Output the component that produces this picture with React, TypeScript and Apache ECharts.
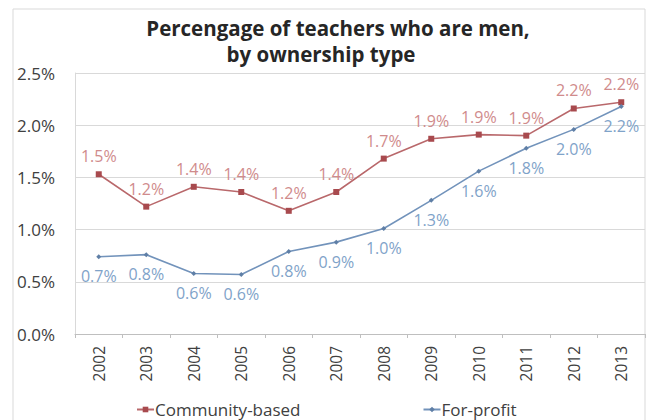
import React, { useEffect, useRef } from "react";
import * as echarts from "echarts";

const years = ["2002","2003","2004","2005","2006","2007","2008","2009","2010","2011","2012","2013"];
const communityBased = [1.53, 1.22, 1.41, 1.36, 1.18, 1.36, 1.68, 1.87, 1.91, 1.90, 2.16, 2.22];
const forProfit = [0.74, 0.76, 0.58, 0.57, 0.79, 0.88, 1.01, 1.28, 1.56, 1.78, 1.96, 2.18];
const titleLines = ["Percengage of teachers who are men,", "by ownership type"];
const seriesNames = ["Community-based", "For-profit"];

export default function App() {
  const ref = useRef<HTMLDivElement>(null);
  useEffect(() => {
    const chart = echarts.init(ref.current!, null, { renderer: "svg" });
    const font = "Open Sans";
    const titleStyle = { fontFamily: font, fontSize: 20.5, fontWeight: "bold", color: "#262626" };
    chart.setOption({
      animation: false,
      backgroundColor: "#ffffff",
      title: [
        { text: titleLines[0], left: 333, textAlign: "center", top: 12, textStyle: titleStyle },
        { text: titleLines[1], left: 316, textAlign: "center", top: 38, textStyle: titleStyle },
      ],
      graphic: [
        { type: "rect", shape: { x: 13, y: 9, width: 632, height: 430 }, style: { fill: "none", stroke: "#d9d9d9", lineWidth: 1 }, silent: true, z: -1 },
      ],
      legend: {
        top: 396,
        left: 131,
        itemGap: 122,
        itemWidth: 17,
        itemHeight: 7,
        textStyle: { fontFamily: font, fontSize: 17, color: "#404040", padding: [0, 0, 0, -4] },
        data: seriesNames,
      },
      grid: { left: 75, right: 2, top: 73, bottom: 420 - 334, containLabel: false },
      xAxis: {
        type: "category",
        data: years,
        boundaryGap: true,
        axisLine: { show: true, lineStyle: { color: "#bfbfbf" } },
        axisTick: { show: true, length: 4, lineStyle: { color: "#bfbfbf" } },
        axisLabel: { rotate: 90, fontFamily: font, fontSize: 15.5, color: "#404040", margin: 12 },
      },
      yAxis: {
        type: "value",
        min: 0,
        max: 0.025,
        interval: 0.005,
        axisLine: { show: true, lineStyle: { color: "#d9d9d9" } },
        axisTick: { show: false },
        splitLine: { lineStyle: { color: "#d9d9d9" } },
        axisLabel: {
          fontFamily: font,
          fontSize: 17,
          color: "#404040",
          margin: 20,
          formatter: (v: number) => (v * 100).toFixed(1) + "%",
        },
      },
      series: [
        {
          name: seriesNames[0],
          type: "line",
          data: communityBased.map((v) => v / 100),
          symbol: "rect",
          symbolSize: 6,
          itemStyle: { color: "#a84a4e" },
          lineStyle: { color: "#b9686b", width: 1.6 },
          label: {
            show: true,
            position: "top",
            distance: 7,
            fontFamily: font,
            fontSize: 16,
            color: "#d08b8c",
            formatter: (p: any) => (p.value * 100).toFixed(1) + "%",
          },
        },
        {
          name: seriesNames[1],
          type: "line",
          data: forProfit.map((v) => v / 100),
          symbol: "diamond",
          symbolSize: 5,
          itemStyle: { color: "#5f7fa6" },
          lineStyle: { color: "#7293bb", width: 1.6 },
          label: {
            show: true,
            position: "bottom",
            distance: 9,
            fontFamily: font,
            fontSize: 16,
            color: "#7fa3c9",
            formatter: (p: any) => (p.value * 100).toFixed(1) + "%",
          },
        },
      ],
    });
    return () => chart.dispose();
  }, []);
  return <div ref={ref} style={{ position: "fixed", left: 0, top: 0, width: 647, height: 420 }} />;
}
